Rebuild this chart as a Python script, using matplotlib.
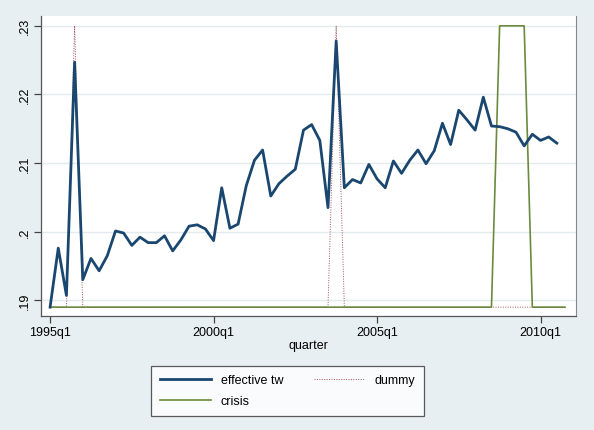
import numpy as np
import matplotlib
matplotlib.use("Agg")
import matplotlib.pyplot as plt

# quarterly data, 1995q1 - 2010q4
eff_tw = [0.1890, 0.1976, 0.1907, 0.2247, 0.1930, 0.1961, 0.1943, 0.1965,
          0.2001, 0.1998, 0.1980, 0.1992, 0.1984, 0.1984, 0.1994, 0.1972,
          0.1988, 0.2008, 0.2010, 0.2004, 0.1987, 0.2064, 0.2005, 0.2011,
          0.2067, 0.2104, 0.2119, 0.2052, 0.2070, 0.2081, 0.2091, 0.2148,
          0.2156, 0.2133, 0.2035, 0.2278, 0.2064, 0.2076, 0.2071, 0.2098,
          0.2077, 0.2064, 0.2103, 0.2085, 0.2104, 0.2119, 0.2099, 0.2118,
          0.2158, 0.2127, 0.2177, 0.2163, 0.2148, 0.2196, 0.2154, 0.2153,
          0.2150, 0.2145, 0.2125, 0.2142, 0.2133, 0.2138, 0.2129, np.nan]
dummy = [0, 0, 0, 1, 0, 0, 0, 0, 0, 0, 0, 0, 0, 0, 0, 0,
         0, 0, 0, 0, 0, 0, 0, 0, 0, 0, 0, 0, 0, 0, 0, 0,
         0, 0, 0, 1, 0, 0, 0, 0, 0, 0, 0, 0, 0, 0, 0, 0,
         0, 0, 0, 0, 0, 0, 0, 0, 0, 0, 0, 0, 0, 0, 0, 0]
crisis = [0, 0, 0, 0, 0, 0, 0, 0, 0, 0, 0, 0, 0, 0, 0, 0,
          0, 0, 0, 0, 0, 0, 0, 0, 0, 0, 0, 0, 0, 0, 0, 0,
          0, 0, 0, 0, 0, 0, 0, 0, 0, 0, 0, 0, 0, 0, 0, 0,
          0, 0, 0, 0, 0, 0, 0, 1, 1, 1, 1, 0, 0, 0, 0, 0]
tick_pos = [0, 20, 40, 60]
tick_labels = ["1995q1", "2000q1", "2005q1", "2010q1"]
y_ticks = [0.19, 0.20, 0.21, 0.22, 0.23]
y_labels = [".19", ".2", ".21", ".22", ".23"]

# dummy and crisis are drawn spanning the range of the series
lo, hi = 0.189, 0.23
q = np.arange(len(eff_tw))
dummy_y = lo + np.array(dummy) * (hi - lo)
crisis_y = lo + np.array(crisis) * (hi - lo)

plt.rcParams['font.family'] = ['Liberation Sans', 'DejaVu Sans']
bg = "#e8eff2"

fig = plt.figure(figsize=(5.94, 4.31), dpi=100, facecolor=bg)
ax = fig.add_axes([0.0685, 0.2645, 0.902, 0.6965])
ax.set_facecolor("white")

ax.plot(q, eff_tw, color="#1a476f", lw=2.0, label="effective tw", zorder=3)
ax.plot(q, dummy_y, color="#a0505a", lw=0.7, ls=(0, (1, 1.5)), label="dummy", zorder=2)
ax.plot(q, crisis_y, color="#6b8a3d", lw=1.2, label="crisis", zorder=2)

ax.set_xlim(-1.15, 64.4)
ax.set_ylim(0.18771, 0.23146)
ax.set_xticks(tick_pos)
ax.set_xticklabels(tick_labels)
ax.set_yticks(y_ticks)
ax.set_yticklabels(y_labels, rotation=90, va="center")
ax.grid(axis="y", color="#e3ebef", lw=1.0)
ax.set_axisbelow(True)
ax.tick_params(labelsize=9, length=5, width=0.9, color="#444444", pad=2)
for s in ["left", "bottom"]:
    ax.spines[s].set_color("#555555")
    ax.spines[s].set_linewidth(0.9)
ax.spines["right"].set_color("#888888")
ax.spines["right"].set_linewidth(0.8)
ax.spines["top"].set_visible(False)
ax.set_xlabel("quarter", fontsize=9, labelpad=1)

h, l = ax.get_legend_handles_labels()
order = [0, 2, 1]
leg = fig.legend([h[i] for i in order], [l[i] for i in order], ncol=2,
                 loc="center", bbox_to_anchor=(0.484, 0.0905),
                 frameon=True, fancybox=False, fontsize=9,
                 handlelength=4.06, columnspacing=2.45, handletextpad=0.8,
                 borderpad=0.7, labelspacing=0.72, borderaxespad=0)
leg.get_frame().set_edgecolor("#333333")
leg.get_frame().set_linewidth(0.9)

fig.savefig("out.png", dpi=100, facecolor=bg)
